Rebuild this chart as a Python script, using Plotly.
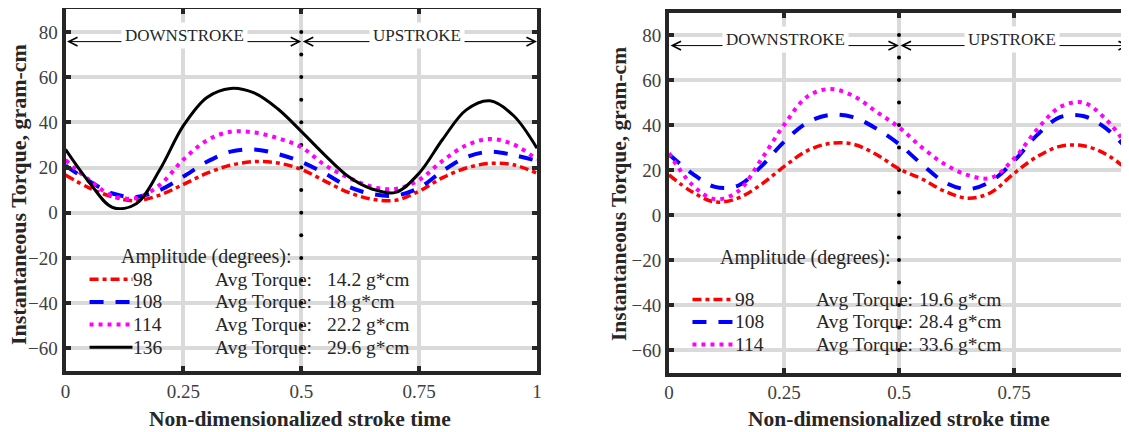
import plotly.graph_objects as go

# Non-dimensionalized stroke time samples
stroke_time = [0.0, 0.05, 0.10, 0.15, 0.20, 0.25, 0.30, 0.35, 0.40, 0.45, 0.50,
               0.55, 0.60, 0.65, 0.70, 0.75, 0.80, 0.85, 0.90, 0.95, 1.0]

# Left panel: instantaneous torque (gram-cm) per amplitude
left_98 = [16.7, 11.0, 7.0, 5.3, 7.8, 12.5, 17.5, 21.0, 22.6, 22.0, 19.2,
           14.0, 9.0, 6.0, 5.5, 9.5, 15.5, 19.8, 21.8, 21.2, 17.4]
left_108 = [20.8, 14.0, 8.5, 7.0, 10.0, 16.0, 22.5, 27.0, 28.0, 26.0, 22.5,
            17.4, 11.5, 8.3, 7.6, 11.0, 18.5, 24.5, 27.0, 25.5, 23.0]
left_114 = [23.3, 14.5, 7.5, 6.5, 12.3, 23.5, 32.0, 35.8, 35.5, 33.0, 29.0,
            21.1, 15.5, 11.5, 10.5, 14.5, 23.0, 29.8, 32.6, 30.2, 23.5]
left_136 = [28.0, 13.5, 2.3, 4.0, 19.0, 38.5, 51.0, 55.0, 53.0, 46.0, 36.0,
            25.5, 16.0, 10.5, 9.0, 17.5, 32.5, 45.5, 49.5, 43.0, 28.5]

# Right panel
right_98 = [17.8, 10.3, 5.8, 7.5, 13.5, 21.5, 28.5, 31.8, 31.5, 27.0, 20.5,
            16.0, 10.5, 7.5, 10.0, 18.5, 25.9, 30.5, 30.8, 27.0, 19.5]
right_108 = [27.0, 18.5, 12.5, 13.0, 21.5, 32.5, 41.0, 44.5, 43.5, 38.5, 31.5,
             22.5, 14.5, 11.5, 15.0, 24.0, 35.5, 43.5, 44.0, 38.5, 28.5]
right_114 = [27.5, 13.5, 7.0, 10.5, 24.5, 40.0, 52.5, 56.0, 53.0, 46.0, 39.0,
             30.0, 22.5, 17.7, 16.5, 25.0, 38.0, 48.0, 50.0, 42.5, 29.5]

amplitudes_left = ['98', '108', '114', '136']
avg_torque_left = ['14.2 g*cm', '18 g*cm', '22.2 g*cm', '29.6 g*cm']
amplitudes_right = ['98', '108', '114']
avg_torque_right = ['19.6 g*cm', '28.4 g*cm', '33.6 g*cm']

x_ticks = [0, 0.25, 0.5, 0.75, 1]
x_tick_text = ['0', '0.25', '0.5', '0.75', '1']
y_ticks = [-60, -40, -20, 0, 20, 40, 60, 80]
divider_y = [-70, -60, -50, -40, -30, -20, -10, 0, 10, 20, 30, 40, 50, 60, 70, 80, 90]

SERIF = 'Liberation Serif, Times New Roman, serif'
TEXT = '#262626'

# page body has an 8px margin, so the figure is sized to fit the window after it
W, H, OFF = 1121, 424, 8


def fx(px):
    # window pixel -> paper x
    return (px - OFF) / W


def fy(py):
    # window pixel -> paper y
    return 1 - (py - OFF) / H


# line style per amplitude
styles = {
    '98': dict(color='#ff0000', width=3.5, dash='9px,4px,4px,4px'),
    '108': dict(color='#0000ff', width=4, dash='14px,12px'),
    '114': dict(color='#ff00ff', width=4, dash='4px,5px'),
    '136': dict(color='#000000', width=3, dash='solid'),
}

fig = go.Figure()
annotations = []
shapes = []


def add_panel(n, series, amps, torques, rows, label_x, arrow_y, text_y, amp_pos):
    xr = 'x' if n == 1 else 'x%d' % n
    yr = 'y' if n == 1 else 'y%d' % n

    # vertical dotted divider at mid-stroke
    fig.add_scatter(x=[0.5] * len(divider_y), y=divider_y, mode='markers',
                    marker=dict(color='black', size=4), xaxis=xr, yaxis=yr,
                    showlegend=False, hoverinfo='skip', cliponaxis=False)

    for amp, vals in zip(amps, series):
        fig.add_scatter(x=stroke_time, y=vals, mode='lines', name=amp,
                        line=dict(shape='spline', smoothing=1, **styles[amp]),
                        xaxis=xr, yaxis=yr, showlegend=False)

    # stroke arrows
    for x0, x1 in [(0, 0.5), (0.5, 1)]:
        annotations.append(dict(x=x1, y=arrow_y, ax=x0, ay=arrow_y, xref=xr, yref=yr,
                                axref=xr, ayref=yr, text='', showarrow=True,
                                arrowhead=5, startarrowhead=5, arrowside='end+start',
                                arrowsize=1.7, arrowwidth=1, arrowcolor='black',
                                standoff=0, startstandoff=0))
    for txt, xc in [('DOWNSTROKE', 0.253), ('UPSTROKE', 0.745)]:
        annotations.append(dict(x=xc, y=text_y, xref=xr, yref=yr, text=txt, showarrow=False,
                                bgcolor='white', borderpad=3,
                                font=dict(family=SERIF, size=17, color=TEXT)))

    # hand-made legend
    annotations.append(dict(x=amp_pos[0], y=amp_pos[1], xref=xr, yref=yr, xanchor='right',
                            text='Amplitude (degrees):', showarrow=False,
                            font=dict(family=SERIF, size=20, color=TEXT)))
    for amp, tq, ry in zip(amps, torques, rows):
        st = styles[amp]
        shapes.append(dict(type='line', xref=xr, yref=yr, x0=0.051, x1=0.142, y0=ry, y1=ry,
                           line=dict(color=st['color'], width=st['width'], dash=st['dash'])))
        for txt, lx in [(amp, 0.141), ('Avg Torque:', label_x[0]), (tq, label_x[1])]:
            annotations.append(dict(x=lx, y=ry, xref=xr, yref=yr, xanchor='left', text=txt,
                                    showarrow=False, borderpad=0,
                                    font=dict(family=SERIF, size=19.5, color=TEXT)))


add_panel(1, [left_98, left_108, left_114, left_136], amplitudes_left, avg_torque_left,
          [-29.5, -39.5, -49.5, -59.5], (0.314, 0.553), 75.7, 78.6, (0.484, -19.5))
add_panel(2, [right_98, right_108, right_114], amplitudes_right, avg_torque_right,
          [-37.5, -47.5, -57.5], (0.317, 0.541), 75.3, 78.0, (0.486, -19))

# axis titles
for xc, yc, sz in [(18, 195, 22), (619, 194, 21.5)]:
    annotations.append(dict(x=fx(xc), y=fy(yc), xref='paper', yref='paper', textangle=-90,
                            xanchor='center', yanchor='middle', borderpad=0,
                            text='<b>Instantaneous Torque, gram-cm</b>', showarrow=False,
                            font=dict(family=SERIF, size=sz, color=TEXT)))
for xc in [300, 899]:
    annotations.append(dict(x=fx(xc), y=fy(419), xref='paper', yref='paper',
                            xanchor='center', yanchor='middle',
                            text='<b>Non-dimensionalized stroke time</b>', showarrow=False,
                            font=dict(family=SERIF, size=21.5, color=TEXT)))

xaxis_style = dict(range=[0, 1], tickvals=x_ticks, ticktext=x_tick_text, showgrid=True,
                   gridcolor='#dadada', gridwidth=4, zeroline=False, showline=True,
                   linecolor=TEXT, linewidth=4, mirror='ticks', ticks='inside',
                   ticklen=5, tickwidth=4, tickcolor=TEXT,
                   tickfont=dict(family=SERIF, size=19, color='#404040'))
yaxis_style = dict(range=[-70, 90], tickvals=y_ticks, showgrid=True,
                   gridcolor='#dadada', gridwidth=4, zeroline=False, showline=True,
                   linecolor=TEXT, linewidth=4, mirror='ticks', ticks='inside',
                   ticklen=5, tickwidth=4, tickcolor=TEXT,
                   tickfont=dict(family=SERIF, size=19, color='#404040'))

fig.update_layout(
    width=W, height=H,
    margin=dict(l=0, r=0, t=0, b=0, autoexpand=False),
    paper_bgcolor='white', plot_bgcolor='white',
    xaxis=dict(domain=[fx(65.5), fx(537)], anchor='y', **xaxis_style),
    yaxis=dict(domain=[fy(370.9), fy(9.3)], anchor='x', **yaxis_style),
    xaxis2=dict(domain=[fx(669), 1.0], anchor='y2', **xaxis_style),
    yaxis2=dict(domain=[fy(372.5), fy(12.5)], anchor='x2', **yaxis_style),
    annotations=annotations,
    shapes=shapes,
    hovermode=False,
)

fig.write_html("out.html", config={'displayModeBar': False})
